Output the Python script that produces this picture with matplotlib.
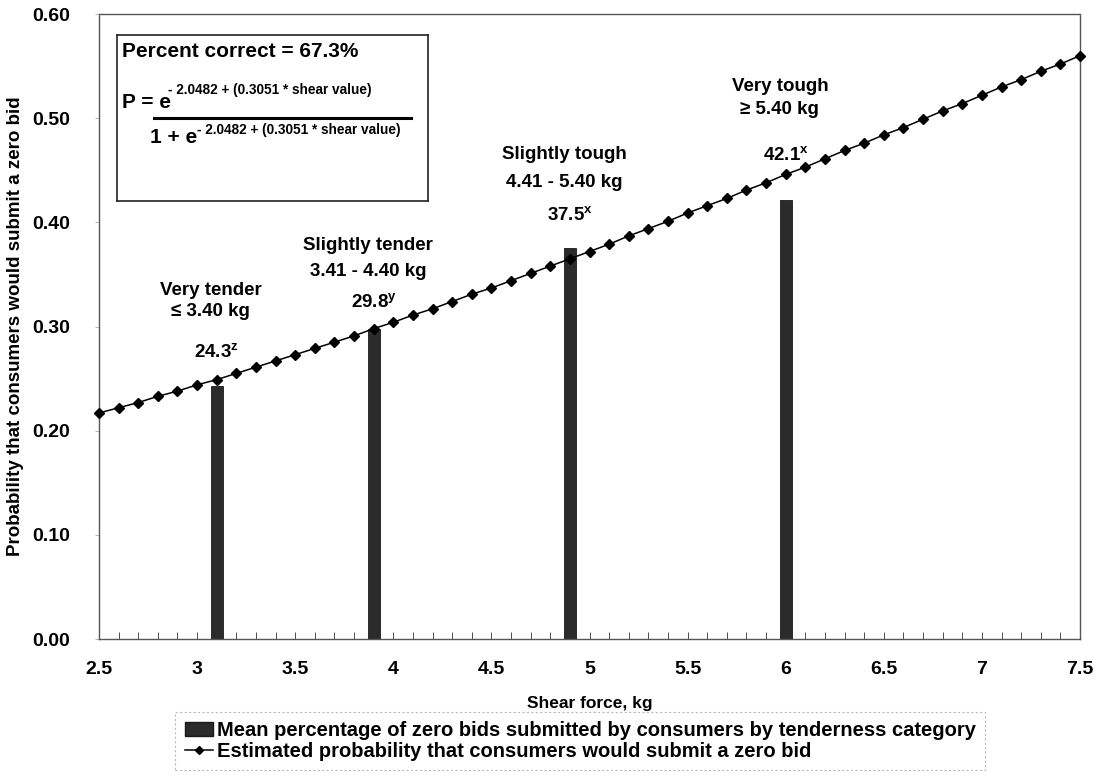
import matplotlib
matplotlib.use("Agg")
import matplotlib.pyplot as plt
from matplotlib.lines import Line2D
from matplotlib.patches import Patch
from matplotlib.ticker import MultipleLocator

plt.rcParams['font.family'] = ['Liberation Sans', 'DejaVu Sans']
plt.rcParams['font.weight'] = 'bold'
plt.rcParams['mathtext.fontset'] = 'custom'
plt.rcParams['mathtext.rm'] = 'Liberation Sans:bold'
plt.rcParams['mathtext.bf'] = 'Liberation Sans:bold'
plt.rcParams['mathtext.it'] = 'Liberation Sans:bold'

# estimated probability of a zero bid, shear force 2.5 - 7.5 kg in 0.1 kg steps
shear = [2.5, 2.6, 2.7, 2.8, 2.9, 3.0, 3.1, 3.2, 3.3, 3.4,
         3.5, 3.6, 3.7, 3.8, 3.9, 4.0, 4.1, 4.2, 4.3, 4.4,
         4.5, 4.6, 4.7, 4.8, 4.9, 5.0, 5.1, 5.2, 5.3, 5.4,
         5.5, 5.6, 5.7, 5.8, 5.9, 6.0, 6.1, 6.2, 6.3, 6.4,
         6.5, 6.6, 6.7, 6.8, 6.9, 7.0, 7.1, 7.2, 7.3, 7.4, 7.5]
prob = [0.217, 0.222, 0.227, 0.233, 0.238, 0.244, 0.249, 0.255, 0.261, 0.267,
        0.273, 0.279, 0.285, 0.291, 0.298, 0.304, 0.311, 0.317, 0.324, 0.331,
        0.337, 0.344, 0.351, 0.358, 0.365, 0.372, 0.379, 0.387, 0.394, 0.401,
        0.409, 0.416, 0.423, 0.431, 0.438, 0.446, 0.453, 0.461, 0.469, 0.476,
        0.484, 0.491, 0.499, 0.507, 0.514, 0.522, 0.530, 0.537, 0.545, 0.552, 0.560]

# mean zero-bid share by tenderness category
cat_x = [3.1, 3.9, 4.9, 6.0]
cat_pct = [24.3, 29.8, 37.5, 42.1]
cat_sig = ['z', 'y', 'x', 'x']
cat_names = ['Very tender', 'Slightly tender', 'Slightly tough', 'Very tough']
cat_ranges = ['≤ 3.40 kg', '3.41 - 4.40 kg', '4.41 - 5.40 kg', '≥ 5.40 kg']

fig = plt.figure(figsize=(11.05, 7.83), dpi=100)
ax = fig.add_axes([0.0896, 0.1839, 0.8878, 0.7982])

bar_h = [p / 100 for p in cat_pct]
ax.bar(cat_x, bar_h, width=0.06, color='#2b2b2b', edgecolor='#1a1a1a',
       linewidth=0.6, zorder=2)
ax.plot(shear, prob, color='black', linewidth=1.1, marker='D', markersize=5,
        markerfacecolor='black', markeredgecolor='black', zorder=3,
        clip_on=False)

# category labels above each bar
name_y = [0.335, 0.378, 0.465, 0.530]
range_y = [0.314, 0.353, 0.438, 0.508]
pct_y = [0.276, 0.324, 0.407, 0.465]
for x, nm, rg, pc, sg, y1, y2, y3 in zip(cat_x, cat_names, cat_ranges, cat_pct,
                                         cat_sig, name_y, range_y, pct_y):
    ax.text(x - 0.03, y1, nm, ha='center', va='center', fontsize=13.5)
    ax.text(x - 0.03, y2, rg, ha='center', va='center', fontsize=13.5)
    ax.text(x, y3, f'{pc}$^{{{sg}}}$', ha='center', va='center', fontsize=13.5)

ax.set_xlim(2.5, 7.5)
ax.set_ylim(0, 0.6)
ax.xaxis.set_major_locator(MultipleLocator(0.5))
ax.xaxis.set_minor_locator(MultipleLocator(0.1))
ax.yaxis.set_major_locator(MultipleLocator(0.1))
ax.set_xticklabels([f'{v:g}' for v in ax.get_xticks()])
ax.set_yticklabels([f'{v:.2f}' for v in ax.get_yticks()])
ax.tick_params(axis='x', which='both', direction='in', length=5, width=0.6,
               pad=16, labelsize=14, color='#333333')
ax.tick_params(axis='y', which='major', direction='out', length=3, width=0.5,
               pad=18, labelsize=14, color='#999999')
for side in ['top', 'right', 'left', 'bottom']:
    ax.spines[side].set_linestyle((0, (1, 1)))
    ax.spines[side].set_color('#555555')
    ax.spines[side].set_linewidth(1.0)

ax.set_xlabel('Shear force, kg', fontsize=12.5, fontweight='bold', labelpad=13)
ax.set_ylabel('Probability that consumers would submit a zero bid',
              fontsize=13.5, fontweight='bold', labelpad=6)

# model box: percent correct and logistic equation
box = ax.inset_axes([0.0183, 0.7008, 0.317, 0.2656])
box.set_xticks([])
box.set_yticks([])
for s in box.spines.values():
    s.set_color('#222222')
    s.set_linewidth(1.2)
box.set_xlim(0, 1)
box.set_ylim(0, 1)
box.text(0.015, 0.90, 'Percent correct = 67.3%', fontsize=15, va='center')
box.text(0.015, 0.595, 'P = e', fontsize=15, va='center')
box.text(0.165, 0.67, '- 2.0482 + (0.3051 * shear value)', fontsize=9.8,
         va='center')
box.plot([0.12, 0.945], [0.50, 0.50], color='black', linewidth=2.2)
box.text(0.105, 0.385, '1 + e', fontsize=15, va='center')
box.text(0.258, 0.43, '- 2.0482 + (0.3051 * shear value)', fontsize=9.8,
         va='center')

handles = [Patch(facecolor='#2b2b2b', edgecolor='#1a1a1a'),
           Line2D([], [], color='black', linewidth=1.1, marker='D',
                  markersize=4.5)]
labels = ['Mean percentage of zero bids submitted by consumers by tenderness category',
          'Estimated probability that consumers would submit a zero bid']
leg = fig.legend(handles, labels, loc='upper center',
                 bbox_to_anchor=(0.525, 0.091), fontsize=14.5, frameon=True,
                 fancybox=False, handlelength=1.4, handletextpad=0.2,
                 borderpad=0.45, labelspacing=0.1, edgecolor='#aaaaaa',
                 borderaxespad=0)
leg.get_frame().set_linestyle((0, (2, 2)))
leg.get_frame().set_linewidth(0.8)

fig.savefig('out.png', dpi=100)
